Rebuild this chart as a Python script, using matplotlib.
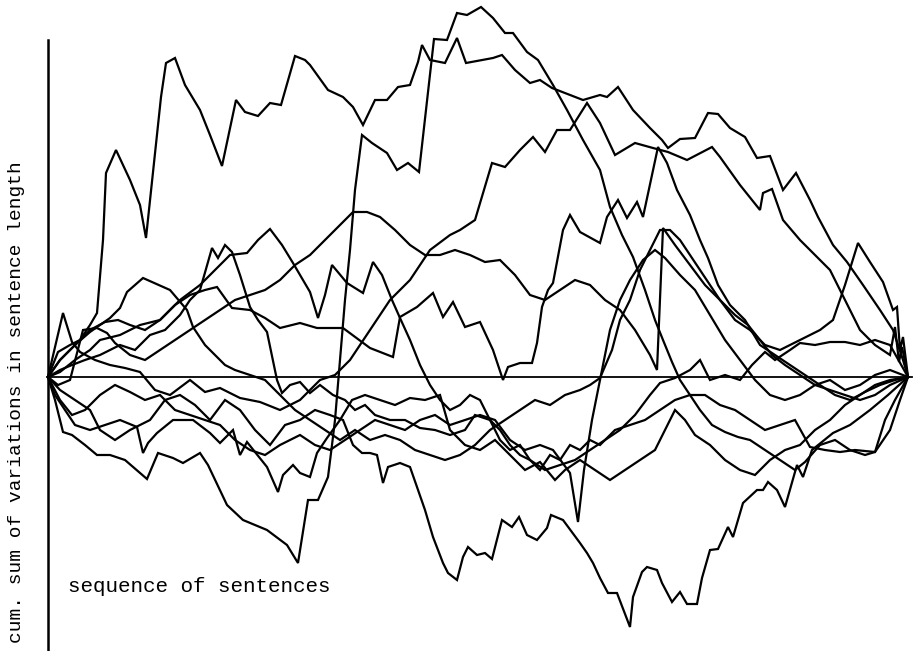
import matplotlib
matplotlib.use("Agg")
import matplotlib.pyplot as plt

# --------------------------------------------------
# Cumulative sums of sentence-length variation, one curve per text
# x: position in the sequence of sentences, y: cumulative sum
# --------------------------------------------------

a_x = [0, 10, 22, 32, 42, 49, 55, 58, 68, 82, 92, 98, 113, 118, 127, 137, 152, 162, 174, 188,
       197, 210, 222, 233, 247, 257, 262, 280, 295, 305, 315, 327, 339, 350, 362, 370, 374, 382,
       397, 409, 418, 445, 454, 467, 482, 492, 504, 535, 552, 559, 570, 585, 602, 614, 620, 632,
       647, 660, 670, 682, 697, 709, 722, 735, 748, 762, 770, 785, 799, 815, 832, 845, 855, 860]
a_y = [0, 25, 32, 37, 52, 64, 137, 204, 227, 197, 172, 139, 280, 314, 319, 292, 267, 242, 211, 277,
       265, 261, 274, 272, 321, 317, 312, 287, 280, 270, 252, 277, 277, 290, 292, 315, 332, 317,
       314, 339, 314, 319, 322, 307, 294, 297, 289, 277, 282, 280, 290, 267, 249, 237, 229, 238,
       239, 264, 263, 249, 240, 219, 221, 187, 204, 177, 160, 132, 115, 92, 67, 47, 17, 0]

b_x = [0, 7, 15, 24, 37, 49, 62, 77, 99, 110, 125, 135, 152, 160, 179, 195, 219, 239, 250, 260,
       270, 280, 284, 287, 292, 297, 302, 307, 314, 324, 339, 349, 360, 371, 386, 399, 409, 419,
       433, 445, 457, 465, 479, 490, 505, 519, 535, 552, 562, 574, 585, 597, 607, 615, 624, 632,
       642, 652, 664, 677, 690, 702, 717, 732, 747, 757, 772, 787, 802, 817, 827, 837, 847, 860]
b_y = [0, -23, -55, -58, -68, -78, -78, -83, -102, -76, -81, -86, -76, -88, -128, -143, -153, -168, -186, -123,
       -123, -100, -68, -43, 17, 77, 127, 187, 242, 234, 224, 207, 214, 205, 338, 337, 364, 362,
       370, 359, 344, 344, 325, 317, 292, 267, 237, 207, 170, 142, 120, 87, 57, 37, 15, -3,
       -18, -33, -48, -55, -60, -63, -73, -83, -93, -85, -68, -63, -73, -78, -75, -43, -23, 0]

d_x = [0, 12, 27, 42, 52, 67, 82, 102, 117, 132, 147, 162, 177, 192, 207, 222, 237, 252, 267, 282,
       295, 305, 314, 322, 329, 335, 340, 352, 362, 369, 377, 385, 395, 400, 409, 415, 420, 429,
       437, 444, 454, 464, 471, 479, 489, 499, 503, 515, 532, 539, 545, 552, 560, 569, 582, 585,
       594, 599, 609, 614, 624, 632, 639, 649, 654, 662, 670, 680, 685, 695, 709, 715, 720, 729,
       737, 749, 755, 764, 785, 802, 822, 840, 860]
d_y = [0, -13, -23, -33, -53, -63, -53, -43, -23, -18, -28, -43, -23, -33, -53, -68, -48, -43, -33, -38,
       -43, -68, -76, -76, -78, -106, -90, -86, -90, -110, -133, -160, -186, -196, -203, -180, -170, -178,
       -176, -182, -143, -150, -140, -158, -163, -151, -138, -143, -166, -176, -186, -201, -216, -216, -250, -220,
       -195, -190, -193, -206, -225, -215, -227, -227, -201, -173, -172, -150, -160, -126, -113, -113, -105, -113,
       -130, -88, -100, -73, -56, -48, -33, -18, 0]

e_x = [0, 15, 24, 32, 47, 62, 77, 92, 107, 122, 142, 157, 172, 192, 212, 232, 252, 272, 287, 302,
       322, 342, 362, 382, 402, 412, 427, 444, 457, 472, 485, 497, 509, 522, 539, 552, 567, 587,
       605, 620, 639, 664, 672, 692, 712, 715, 724, 735, 752, 767, 782, 797, 812, 827, 842, 847,
       851, 854, 860]
e_y = [0, 64, 35, 25, 17, 12, 9, 5, -13, -18, -3, -15, -11, -21, -25, -33, -23, -3, 2, 17,
       47, 77, 97, 127, 142, 147, 157, 214, 210, 227, 240, 225, 247, 247, 274, 254, 222, 234,
       229, 225, 217, 230, 220, 192, 167, 184, 188, 157, 137, 122, 107, 77, 47, 32, 22, 50,
       15, 30, 0]

f_x = [0, 12, 27, 42, 57, 70, 82, 97, 112, 127, 142, 157, 169, 184, 202, 217, 232, 252, 269, 295,
       322, 345, 352, 369, 385, 395, 405, 417, 432, 445, 455, 460, 472, 484, 489, 494, 500, 505,
       515, 522, 532, 552, 559, 570, 579, 589, 595, 610, 619, 629, 642, 652, 660, 670, 682, 697,
       712, 727, 742, 757, 772, 787, 802, 817, 832, 847, 860]
f_y = [0, 17, 32, 47, 55, 57, 52, 47, 57, 72, 82, 87, 90, 69, 67, 59, 49, 54, 49, 49,
       29, 20, 60, 70, 84, 60, 75, 50, 55, 27, -3, 10, 14, 14, 34, 70, 87, 94,
       147, 162, 145, 134, 160, 177, 159, 175, 160, 230, 214, 187, 162, 137, 119, 92, 72, 57,
       32, 22, 12, 2, -8, -18, -23, -15, -8, -3, 0]

g_x = [0, 12, 27, 42, 52, 72, 92, 112, 132, 152, 167, 182, 199, 210, 222, 234, 245, 262, 270, 277,
       284, 299, 315, 325, 334, 344, 352, 362, 372, 382, 392, 402, 412, 422, 432, 442, 452, 462,
       472, 482, 492, 502, 512, 522, 532, 542, 552, 567, 582, 597, 612, 627, 642, 657, 672, 687,
       702, 717, 732, 747, 762, 777, 792, 807, 827, 842, 852, 860]
g_y = [0, 5, 17, 27, 37, 42, 52, 57, 77, 92, 107, 122, 124, 137, 148, 132, 114, 85, 59, 82,
       112, 94, 84, 115, 102, 77, 59, 37, 12, -8, -23, -33, -28, -18, -23, -43, -63, -73,
       -68, -83, -93, -78, -83, -68, -73, -63, -68, -53, -48, -43, -33, -23, -18, -18, -28, -33,
       -43, -53, -48, -43, -70, -73, -75, -73, -75, -53, -23, 0]

h_x = [0, 12, 24, 37, 52, 62, 72, 87, 102, 117, 132, 142, 152, 160, 164, 170, 177, 184, 192, 202,
       210, 219, 229, 234, 242, 252, 262, 272, 285, 297, 307, 317, 327, 342, 357, 372, 387, 402,
       417, 427, 442, 452, 462, 472, 482, 497, 512, 527, 542, 557, 572, 587, 602, 612, 627, 642,
       652, 662, 677, 692, 704, 717, 727, 742, 752, 767, 782, 797, 812, 827, 842, 860]
h_y = [0, 7, 12, 17, 22, 27, 32, 27, 42, 47, 62, 77, 87, 115, 129, 119, 132, 125, 102, 70,
       57, 45, -3, -16, -8, -5, -16, -8, -18, -23, -33, -28, -38, -43, -43, -51, -53, -58,
       -53, -38, -43, -53, -68, -78, -83, -93, -88, -83, -73, -63, -53, -38, -18, -6, -1, 7,
       17, -3, 2, -3, 12, 25, 17, 27, 34, 32, 35, 35, 32, 37, 32, 0]

i_x = [0, 12, 27, 42, 52, 62, 72, 79, 95, 122, 139, 145, 157, 167, 177, 187, 202, 217, 232, 247,
       262, 277, 292, 307, 322, 337, 352, 367, 382, 397, 412, 427, 442, 457, 472, 487, 502, 517,
       532, 542, 552, 564, 572, 582, 592, 602, 612, 622, 632, 642, 652, 662, 672, 687, 700, 712,
       724, 737, 752, 767, 782, 797, 812, 827, 842, 860]
i_y = [0, 17, 32, 45, 52, 59, 69, 85, 99, 87, 67, 50, 32, 22, 12, 7, 2, -3, -18, -33,
       -43, -53, -63, -53, -63, -58, -63, -73, -78, -83, -78, -68, -53, -43, -33, -23, -28, -18,
       -13, -8, -1, 27, 57, 77, 107, 127, 147, 147, 137, 122, 107, 92, 77, 62, 52, 37,
       22, 12, 2, -8, -13, -18, -23, -18, -8, 0]

j_x = [0, 7, 17, 27, 42, 57, 72, 89, 95, 100, 109, 125, 145, 162, 172, 185, 192, 199, 219, 230,
       235, 245, 252, 262, 269, 279, 292, 304, 317, 332, 347, 362, 377, 392, 402, 417, 432, 447,
       462, 477, 492, 507, 517, 532, 547, 562, 577, 592, 607, 617, 627, 637, 647, 662, 677, 692,
       707, 722, 737, 752, 767, 782, 797, 812, 827, 842, 860]
j_y = [0, -18, -33, -48, -53, -48, -43, -50, -76, -66, -56, -43, -43, -56, -66, -53, -78, -65, -90, -115,
       -98, -88, -96, -100, -76, -61, -43, -23, -18, -23, -28, -21, -23, -18, -53, -68, -73, -63,
       -78, -93, -85, -103, -93, -83, -93, -103, -93, -83, -73, -53, -33, -43, -58, -68, -83, -93,
       -98, -83, -73, -68, -53, -43, -28, -18, -8, -3, 0]

k_x = [0, 10, 22, 35, 49, 59, 67, 82, 97, 112, 127, 142, 157, 172, 187, 202, 217, 232, 247, 262,
       277, 292, 305, 319, 332, 347, 362, 377, 392, 407, 422, 437, 452, 467, 482, 497, 512, 527,
       542, 557, 572, 587, 602, 609, 615, 627, 642, 657, 672, 687, 702, 717, 732, 752, 772, 785,
       797, 810, 822, 835, 845, 849, 852, 855, 860]
k_y = [0, -8, -3, 47, 49, 44, 34, 22, 17, 27, 37, 47, 57, 67, 77, 82, 87, 97, 112, 122,
       137, 152, 165, 165, 160, 147, 132, 122, 122, 127, 122, 115, 117, 102, 82, 77, 87, 97,
       92, 77, 67, 47, 22, 7, 149, 132, 112, 92, 77, 57, 47, 32, 27, 37, 47, 57,
       92, 134, 115, 95, 67, 70, 27, 40, 0]

l_x = [0, 12, 24, 37, 52, 67, 82, 97, 112, 127, 142, 157, 172, 187, 202, 217, 232, 252, 267, 282,
       297, 312, 327, 342, 357, 372, 387, 402, 417, 432, 447, 462, 477, 492, 505, 522, 530, 536,
       544, 552, 562, 572, 582, 595, 607, 617, 632, 647, 662, 677, 692, 707, 722, 737, 752, 767,
       782, 797, 812, 827, 842, 860]
l_y = [0, -23, -38, -33, -18, -8, -15, -23, -18, -33, -38, -43, -48, -63, -73, -78, -68, -58, -68, -73,
       -63, -53, -43, -48, -53, -43, -38, -48, -43, -38, -43, -63, -73, -68, -73, -96, -145, -93,
       -43, -3, 47, 77, 97, 117, 127, 119, 102, 87, 62, 37, 17, -3, -18, -23, -18, -8,
       -3, -13, -8, 2, 7, 0]

series = [(a_x, a_y), (b_x, b_y), (d_x, d_y), (e_x, e_y), (f_x, f_y), (g_x, g_y),
          (h_x, h_y), (i_x, i_y), (j_x, j_y), (k_x, k_y), (l_x, l_y)]

y_label = "cum. sum of variations in sentence length"
x_label = "sequence of sentences"

fig = plt.figure(figsize=(9.21, 6.51), dpi=100)
ax = fig.add_axes([0, 0, 1, 1])
ax.set_xlim(-48, 873)
ax.set_ylim(-274, 377)
ax.axis("off")

for xs, ys in series:
    ax.plot(xs, ys, color="black", linewidth=1.6, solid_joinstyle="miter")

# axes drawn by hand, like the original
ax.plot([0, 0], [-274, 337], color="black", linewidth=1.8)
ax.plot([0, 864], [0, 0], color="black", linewidth=1.3)

ax.text(-31, -25, y_label, rotation=90, ha="center", va="center",
        fontsize=14, family="Liberation Mono")
ax.text(151, -210, x_label, ha="center", va="center",
        fontsize=15, family="Liberation Mono")

fig.savefig("out.png", dpi=100)
